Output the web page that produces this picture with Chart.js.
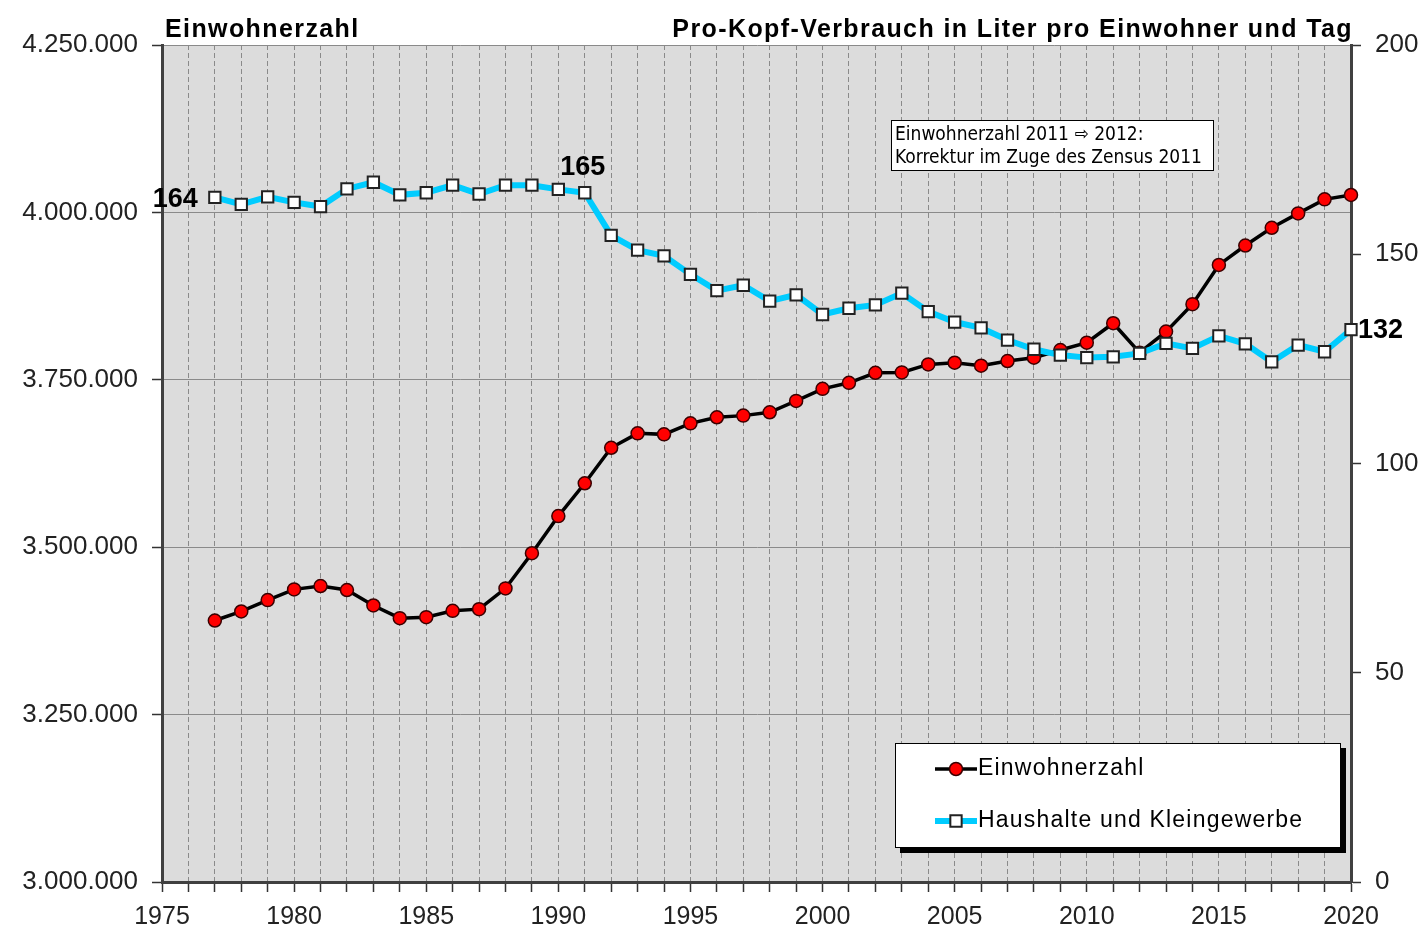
<!DOCTYPE html>
<html lang="de">
<head>
<meta charset="utf-8">
<title>Einwohnerzahl und Pro-Kopf-Verbrauch</title>
<script src="https://cdn.jsdelivr.net/npm/chart.js@4.4.0/dist/chart.umd.min.js"></script>
<style>
  html, body { margin: 0; padding: 0; background: #fff; }
</style>
</head>
<body>
<canvas id="chart" width="1422" height="929"></canvas>
<script>
//DATA
const years = [1977, 1978, 1979, 1980, 1981, 1982, 1983, 1984, 1985, 1986,
  1987, 1988, 1989, 1990, 1991, 1992, 1993, 1994, 1995, 1996,
  1997, 1998, 1999, 2000, 2001, 2002, 2003, 2004, 2005, 2006,
  2007, 2008, 2009, 2010, 2011, 2012, 2013, 2014, 2015, 2016,
  2017, 2018, 2019, 2020];

const einwohnerzahl = [3390500, 3404000, 3421000, 3437000, 3442000, 3436000, 3413000, 3394000, 3395500, 3405000,
  3407500, 3438500, 3491000, 3546500, 3595500, 3648500, 3670000, 3668500, 3685000, 3694000,
  3696500, 3701500, 3718500, 3736500, 3745500, 3760500, 3761000, 3773000, 3775500, 3771000,
  3778000, 3783000, 3794500, 3805500, 3834500, 3790500, 3822000, 3863000, 3921500, 3950500,
  3977000, 3998500, 4019500, 4026000];

const haushalte = [163.6, 161.9, 163.7, 162.4, 161.4, 165.6, 167.2, 164.2, 164.7, 166.5,
  164.4, 166.5, 166.5, 165.5, 164.7, 154.5, 151.0, 149.6, 145.2, 141.3,
  142.6, 138.8, 140.3, 135.6, 137.1, 137.9, 140.7, 136.3, 133.8, 132.4,
  129.5, 127.3, 125.9, 125.3, 125.5, 126.3, 128.7, 127.5, 130.5, 128.6,
  124.3, 128.3, 126.7, 132.0];

// years of the blue series that carry a value label
const labelYears = [1977, 1991, 2020];

const seriesNames = ['Einwohnerzahl', 'Haushalte und Kleingewerbe'];
const leftTitle = 'Einwohnerzahl';
const rightTitle = 'Pro-Kopf-Verbrauch in Liter pro Einwohner und Tag';
const noteLines = ['Einwohnerzahl 2011 \u21E8 2012:', 'Korrektur im Zuge des Zensus 2011'];

const FONT = "'Liberation Sans', Arial, sans-serif";

//FORMAT NUMBER WITH DOTS
function handleThousands(pNumber) {
  return String(Math.round(pNumber)).replace(/\B(?=(\d{3})+(?!\d))/g, '.');
}

//PLOT BACKGROUND
const plotBackground = {
  id: 'plotBackground',
  beforeDraw(chart) {
    const { ctx, chartArea: a } = chart;
    ctx.save();
    ctx.fillStyle = '#dcdcdc';
    ctx.fillRect(a.left, a.top, a.right - a.left, a.bottom - a.top);
    ctx.restore();
  }
};

//TITLES, NOTE, LABELS AND LEGEND
const extras = {
  id: 'extras',
  afterDraw(chart) {
    const { ctx, chartArea: a } = chart;
    ctx.save();

    // axis titles
    ctx.fillStyle = '#000';
    ctx.textBaseline = 'alphabetic';
    ctx.font = 'bold 25px ' + FONT;
    ctx.letterSpacing = '1.4px';
    ctx.textAlign = 'left';
    ctx.fillText(leftTitle, a.left + 3, 37);
    ctx.textAlign = 'right';
    ctx.fillText(rightTitle, a.right + 2, 37);
    ctx.letterSpacing = '0px';

    // note box
    ctx.font = "19px 'Liberation Sans Narrow', 'DejaVu Sans Condensed', " + FONT;
    const nx = 891, ny = 120, nw = 322, nh = 50;
    ctx.fillStyle = '#fff';
    ctx.fillRect(nx, ny, nw, nh);
    ctx.strokeStyle = '#000';
    ctx.lineWidth = 1;
    ctx.strokeRect(nx + 0.5, ny + 0.5, nw, nh);
    ctx.fillStyle = '#000';
    ctx.textAlign = 'left';
    ctx.textBaseline = 'middle';
    ctx.fillText(noteLines[0], nx + 4, ny + 15);
    ctx.fillText(noteLines[1], nx + 4, ny + 38);

    // value labels on the blue series
    const meta = chart.getDatasetMeta(1);
    ctx.font = 'bold 27px ' + FONT;
    ctx.fillStyle = '#000';
    labelYears.forEach((yr, k) => {
      const i = years.indexOf(yr);
      const pt = meta.data[i];
      const txt = String(Math.round(haushalte[i]));
      if (k === 0) {
        ctx.textAlign = 'right';
        ctx.fillText(txt, pt.x - 17, pt.y + 2);
      } else if (k === labelYears.length - 1) {
        ctx.textAlign = 'left';
        ctx.fillText(txt, pt.x + 7, pt.y + 1);
      } else {
        ctx.textAlign = 'center';
        ctx.fillText(txt, pt.x - 2, pt.y - 25);
      }
    });

    // legend with shadow
    const lx = 895, ly = 743, lw = 446, lh = 105;
    ctx.fillStyle = '#000';
    ctx.fillRect(lx + 5, ly + 5, lw, lh);
    ctx.fillStyle = '#fff';
    ctx.fillRect(lx, ly, lw, lh);
    ctx.strokeStyle = '#000';
    ctx.lineWidth = 1;
    ctx.strokeRect(lx + 0.5, ly + 0.5, lw - 1, lh - 1);

    const ds = chart.data.datasets;
    const rows = [ly + 26, ly + 78];
    rows.forEach((ry, i) => {
      const d = ds[i];
      ctx.strokeStyle = d.borderColor;
      ctx.lineWidth = d.borderWidth;
      ctx.beginPath();
      ctx.moveTo(lx + 40, ry);
      ctx.lineTo(lx + 82, ry);
      ctx.stroke();
      ctx.fillStyle = d.pointBackgroundColor;
      ctx.strokeStyle = d.pointBorderColor;
      ctx.lineWidth = d.pointBorderWidth;
      ctx.beginPath();
      if (d.pointStyle === 'circle') {
        ctx.arc(lx + 61, ry, d.pointRadius, 0, Math.PI * 2);
      } else {
        const s = d.pointRadius * Math.SQRT1_2;
        ctx.rect(lx + 61 - s, ry - s, 2 * s, 2 * s);
      }
      ctx.fill();
      ctx.stroke();
      ctx.fillStyle = '#000';
      ctx.font = '23px ' + FONT;
      ctx.letterSpacing = '1.2px';
      ctx.textAlign = 'left';
      ctx.textBaseline = 'middle';
      ctx.fillText(d.label, lx + 83, ry);
      ctx.letterSpacing = '0px';
    });

    ctx.restore();
  }
};

const ctx = document.getElementById('chart');

new Chart(ctx, {
  type: 'line',
  data: {
    datasets: [{
      label: seriesNames[0],
      data: years.map((y, i) => ({ x: y, y: einwohnerzahl[i] })),
      yAxisID: 'y',
      borderColor: '#000',
      borderWidth: 3.5,
      pointStyle: 'circle',
      pointRadius: 6.5,
      pointBackgroundColor: '#ff0000',
      pointBorderColor: '#3a0000',
      pointBorderWidth: 1.5,
      tension: 0,
      clip: false,
      order: 2
    }, {
      label: seriesNames[1],
      data: years.map((y, i) => ({ x: y, y: haushalte[i] })),
      yAxisID: 'y2',
      borderColor: '#00ccff',
      borderWidth: 6,
      pointStyle: 'rect',
      pointRadius: 8,
      pointBackgroundColor: '#ffffff',
      pointBorderColor: '#222',
      pointBorderWidth: 2,
      tension: 0,
      clip: false,
      order: 1
    }]
  },
  options: {
    responsive: false,
    animation: false,
    layout: { padding: { top: 45, left: 0, right: 0, bottom: 0 } },
    plugins: {
      legend: { display: false },
      tooltip: { enabled: false }
    },
    scales: {
      x: {
        type: 'linear',
        min: 1975,
        max: 2020,
        afterFit: (s) => { s.height = 47; },
        ticks: {
          stepSize: 1,
          autoSkip: false,
          maxRotation: 0,
          padding: 10,
          color: '#222',
          font: { family: FONT, size: 25 },
          callback: (v) => (v % 5 === 0 ? String(v) : '')
        },
        grid: {
          color: '#8a8a8a',
          lineWidth: 1,
          tickColor: '#333',
          tickLength: 10,
          tickWidth: 1.5
        },
        border: { color: '#404040', width: 3, dash: [5, 3] }
      },
      y: {
        position: 'left',
        min: 3000000,
        max: 4250000,
        afterFit: (s) => { s.width = 162; },
        ticks: {
          stepSize: 250000,
          padding: 14,
          color: '#222',
          font: { family: FONT, size: 26 },
          callback: (v) => handleThousands(v)
        },
        grid: {
          color: '#8a8a8a',
          lineWidth: 1,
          tickColor: '#333',
          tickLength: 10,
          tickWidth: 1.5
        },
        border: { color: '#404040', width: 3 }
      },
      y2: {
        position: 'right',
        min: 0,
        max: 200,
        afterFit: (s) => { s.width = 71; },
        ticks: {
          stepSize: 50,
          padding: 14,
          color: '#222',
          font: { family: FONT, size: 26 }
        },
        grid: {
          drawOnChartArea: false,
          tickColor: '#333',
          tickLength: 10,
          tickWidth: 1.5
        },
        border: { color: '#404040', width: 3 }
      }
    }
  },
  plugins: [plotBackground, extras]
});
</script>
</body>
</html>
